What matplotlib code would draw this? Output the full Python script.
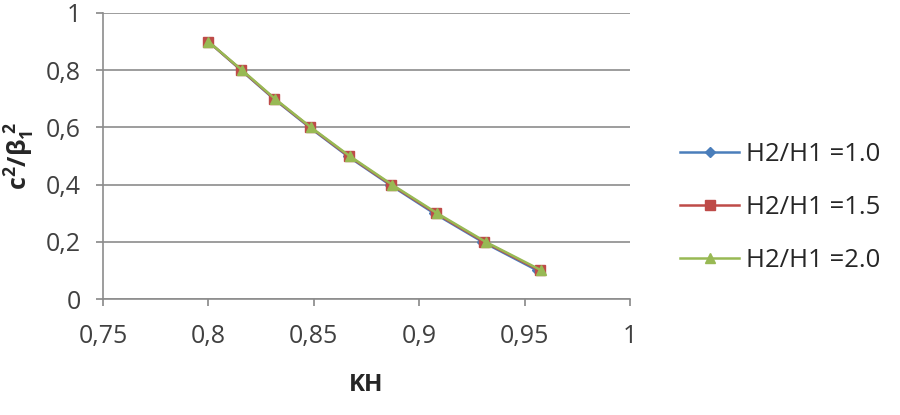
import matplotlib.pyplot as plt

# c^2/beta1^2 values (y) and KH for each H2/H1 ratio
c2b2 = [0.9, 0.8, 0.7, 0.6, 0.5, 0.4, 0.3, 0.2, 0.1]
kh_10 = [0.800, 0.8155, 0.8310, 0.8480, 0.8660, 0.8860, 0.9070, 0.9300, 0.9560]
kh_15 = [0.800, 0.8157, 0.8313, 0.8484, 0.8665, 0.8866, 0.9078, 0.9308, 0.9572]
kh_20 = [0.800, 0.8160, 0.8316, 0.8487, 0.8670, 0.8871, 0.9085, 0.9315, 0.9580]
labels = ['H2/H1 =1.0', 'H2/H1 =1.5', 'H2/H1 =2.0']
xticks = [0.75, 0.8, 0.85, 0.9, 0.95, 1]
yticks = [0, 0.2, 0.4, 0.6, 0.8, 1]

plt.rcParams['font.family'] = ['Open Sans', 'DejaVu Sans']
plt.rcParams['mathtext.fontset'] = 'custom'
plt.rcParams['mathtext.rm'] = 'Open Sans'
plt.rcParams['mathtext.bf'] = 'Open Sans:bold'

fig = plt.figure(figsize=(9, 4.15), dpi=100)
ax = fig.add_axes([0.1144, 0.2795, 0.5856, 0.6892])

ax.plot(kh_10, c2b2, color='#4A7EBB', lw=1.8, marker='D', ms=5, label=labels[0])
ax.plot(kh_15, c2b2, color='#BE4B48', lw=1.8, marker='s', ms=6.5, label=labels[1])
ax.plot(kh_20, c2b2, color='#98B954', lw=1.8, marker='^', ms=7, label=labels[2])

ax.set_xlim(0.75, 1)
ax.set_ylim(0, 1)
ax.set_xticks(xticks)
ax.set_yticks(yticks)
fmt = lambda v: ('%g' % v).replace('.', ',')
ax.set_xticklabels([fmt(v) for v in xticks])
ax.set_yticklabels([fmt(v) for v in yticks])
ax.tick_params(labelsize=18, colors='#888888', labelcolor='#404040', length=5, width=1.2)
ax.tick_params(axis='x', pad=13)
ax.tick_params(axis='y', pad=11)
ax.grid(axis='y', color='#8c8c8c', lw=1.2)
ax.set_axisbelow(True)
for s in ['top', 'right']:
    ax.spines[s].set_visible(False)
for s in ['left', 'bottom']:
    ax.spines[s].set_color('#8c8c8c')
    ax.spines[s].set_linewidth(1.2)

ax.set_xlabel('KH', fontsize=17.5, fontweight='bold', color='#262626', labelpad=17)
ax.set_ylabel(r'$\mathbf{c^2/\beta_1^{\ 2}}$', fontsize=18, color='#262626', labelpad=6)

fig.legend(loc='upper left', bbox_to_anchor=(0.730, 0.713), frameon=False,
           fontsize=18.5, labelspacing=1.08, handlelength=2.3, handletextpad=0.27,
           labelcolor='#262626')

fig.savefig('out.png')
